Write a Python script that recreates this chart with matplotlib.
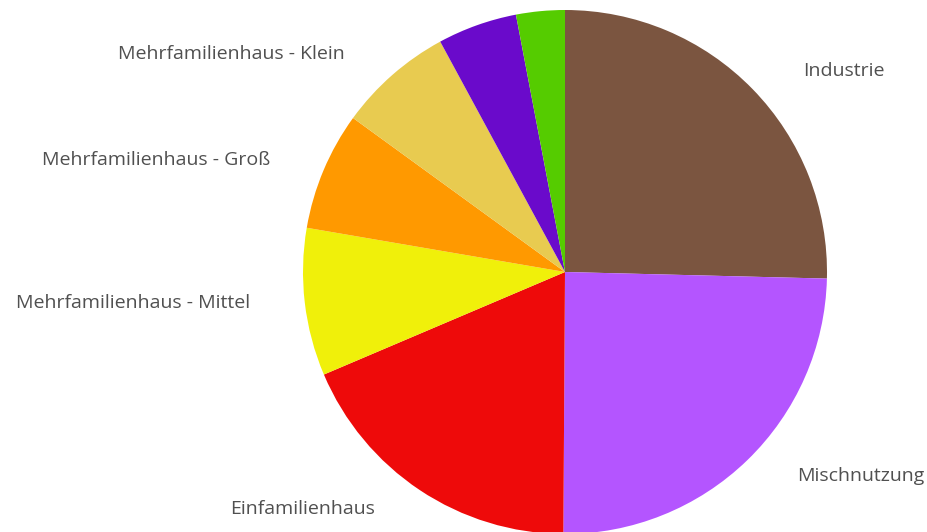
import matplotlib
matplotlib.use("Agg")
import matplotlib.pyplot as plt

# Building-type shares (percent), clockwise from 12 o'clock
categories = [
    "Industrie",
    "Mischnutzung",
    "Einfamilienhaus",
    "Mehrfamilienhaus - Mittel",
    "Mehrfamilienhaus - Groß",
    "Mehrfamilienhaus - Klein",
    "",
    "",
]
shares = [25.4, 24.7, 18.5, 9.1, 7.3, 7.1, 4.9, 3.0]
colors = ["#7B5540", "#B455FF", "#EE0A0A", "#F0F00A",
          "#FF9900", "#E8CB50", "#6A0ACB", "#55CC00"]

W, H = 928, 532
fig = plt.figure(figsize=(W / 100, H / 100), dpi=100)
ax = fig.add_axes([0, 0, 1, 1])

cx, cy, r = 565, H - 272, 262
ax.pie(shares, colors=colors, startangle=90, counterclock=False,
       center=(cx, cy), radius=r, wedgeprops=dict(linewidth=0))

ax.set_xlim(0, W)
ax.set_ylim(0, H)
ax.set_aspect("equal")
ax.axis("off")

# Label anchors (pixel positions, top-left origin) and alignment
label_pos = {
    "Industrie": (803, 71, "left"),
    "Mischnutzung": (797, 476, "left"),
    "Einfamilienhaus": (375, 509, "right"),
    "Mehrfamilienhaus - Mittel": (250, 303, "right"),
    "Mehrfamilienhaus - Groß": (270, 160, "right"),
    "Mehrfamilienhaus - Klein": (345, 54, "right"),
}
for name in categories:
    if name in label_pos:
        x, y, ha = label_pos[name]
        ax.text(x, H - y, name, ha=ha, va="center", fontsize=14,
                color="#505050", family=["Open Sans", "DejaVu Sans"])

fig.savefig("out.png", dpi=100)
